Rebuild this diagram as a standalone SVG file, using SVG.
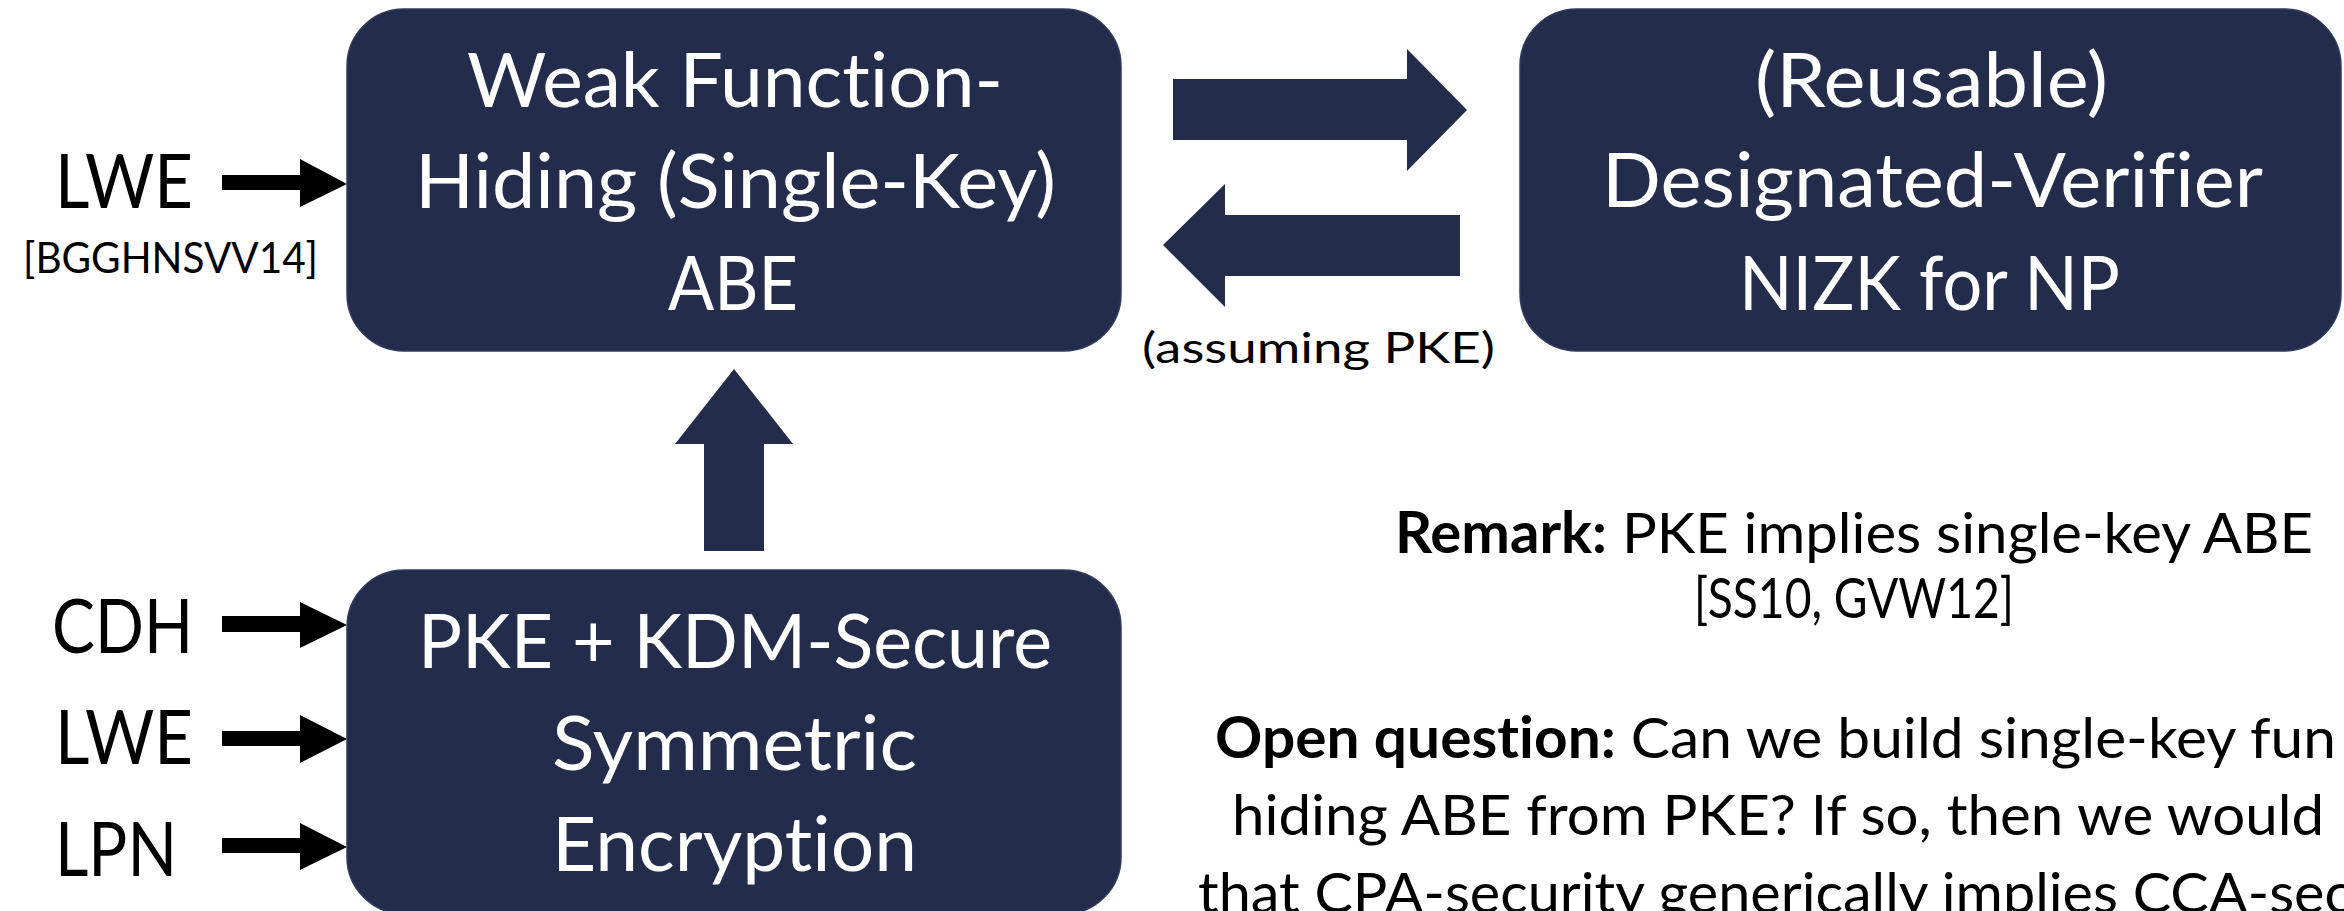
<svg xmlns="http://www.w3.org/2000/svg" width="2344" height="911" viewBox="0 0 2344 911">
<style>
text{font-variant-ligatures:none;font-feature-settings:"liga" 0,"clig" 0}
.box{fill:#242c4c;stroke:#2f3a5e;stroke-width:1.5}
.bt{font-family:Lato,"Open Sans","Liberation Sans",sans-serif;font-size:75px;fill:#ffffff}
.lbl{font-family:Lato,"Open Sans","Liberation Sans",sans-serif;font-size:75px;fill:#000000}
.ref{font-family:Lato,"Open Sans","Liberation Sans",sans-serif;font-size:43px;fill:#000000}
.note{font-family:Lato,"Open Sans","Liberation Sans",sans-serif;font-size:57px;fill:#000000}
.bigarrow{fill:#242c4c}
.blk{fill:#000000}
</style>
<rect width="2344" height="911" fill="#ffffff"/>

<g id="connectors">
  <polygon class="bigarrow" points="1173,79 1407,79 1407,49 1467,110 1407,171 1407,140 1173,140"/>
  <polygon class="bigarrow" points="1460,215 1225,215 1225,184 1163,245 1225,307 1225,276 1460,276"/>
  <polygon class="bigarrow" points="704,551 704,444 675,444 734,369 793,444 764,444 764,551"/>
  <polygon class="blk" points="222,175 300,175 300,159 347,184 300,207 300,190 222,190"/>
  <polygon class="blk" points="222,616 300,616 300,602 347,625 300,648 300,632 222,632"/>
  <polygon class="blk" points="222,731 300,731 300,715 347,739 300,763 300,746 222,746"/>
  <polygon class="blk" points="222,838 300,838 300,823 347,847 300,870 300,853 222,853"/>
  <text class="ref" x="1142" y="363" font-size="49" textLength="353" lengthAdjust="spacingAndGlyphs">(assuming PKE)</text>
</g>

<g id="node-abe">
  <rect class="box" x="347" y="9" width="774" height="342" rx="57" ry="57"/>
  <text class="bt" x="467" y="107" textLength="536" lengthAdjust="spacingAndGlyphs">Weak Function-</text>
  <text class="bt" x="415" y="208" textLength="641" lengthAdjust="spacingAndGlyphs">Hiding (Single-Key)</text>
  <text class="bt" x="668" y="310" textLength="130" lengthAdjust="spacingAndGlyphs">ABE</text>
</g>

<g id="node-nizk">
  <rect class="box" x="1520" y="9" width="821" height="342" rx="57" ry="57"/>
  <text class="bt" x="1755" y="107" textLength="353" lengthAdjust="spacingAndGlyphs">(Reusable)</text>
  <text class="bt" x="1602" y="207" textLength="661" lengthAdjust="spacingAndGlyphs">Designated-Verifier</text>
  <text class="bt" x="1739" y="310" textLength="381" lengthAdjust="spacingAndGlyphs">NIZK for NP</text>
</g>

<g id="node-pke">
  <rect class="box" x="347" y="570" width="774" height="344" rx="57" ry="57"/>
  <text class="bt" x="418" y="668" textLength="634" lengthAdjust="spacingAndGlyphs">PKE + KDM-Secure</text>
  <text class="bt" x="552" y="770" textLength="365" lengthAdjust="spacingAndGlyphs">Symmetric</text>
  <text class="bt" x="552" y="871" textLength="365" lengthAdjust="spacingAndGlyphs">Encryption</text>
</g>

<g id="node-lwe-top">
  <text class="lbl" x="55" y="208" textLength="138" lengthAdjust="spacingAndGlyphs">LWE</text>
  <text class="ref" x="23" y="273" textLength="295" lengthAdjust="spacingAndGlyphs">[BGGHNSVV14]</text>
</g>

<g id="node-cdh">
  <text class="lbl" x="52" y="653" textLength="141" lengthAdjust="spacingAndGlyphs">CDH</text>
</g>
<g id="node-lwe">
  <text class="lbl" x="55" y="764" textLength="138" lengthAdjust="spacingAndGlyphs">LWE</text>
</g>
<g id="node-lpn">
  <text class="lbl" x="55" y="876" textLength="122" lengthAdjust="spacingAndGlyphs">LPN</text>
</g>

<g id="remark">
  <text class="note" x="1395" y="553" textLength="918" lengthAdjust="spacingAndGlyphs"><tspan font-weight="bold">Remark:</tspan> PKE implies single-key ABE</text>
  <text class="note" x="1694" y="618" font-size="46" textLength="320" lengthAdjust="spacingAndGlyphs">[SS10, GVW12]</text>
</g>

<g id="open-question">
  <text class="note" x="1215" y="758" textLength="1121" lengthAdjust="spacingAndGlyphs"><tspan font-weight="bold">Open question:</tspan> Can we build single-key fun</text>
  <text class="note" x="1232" y="835" textLength="1092" lengthAdjust="spacingAndGlyphs">hiding ABE from PKE? If so, then we would</text>
  <text class="note" x="1198" y="913" textLength="1154" lengthAdjust="spacingAndGlyphs">that CPA-security generically implies CCA-sec</text>
</g>
</svg>
